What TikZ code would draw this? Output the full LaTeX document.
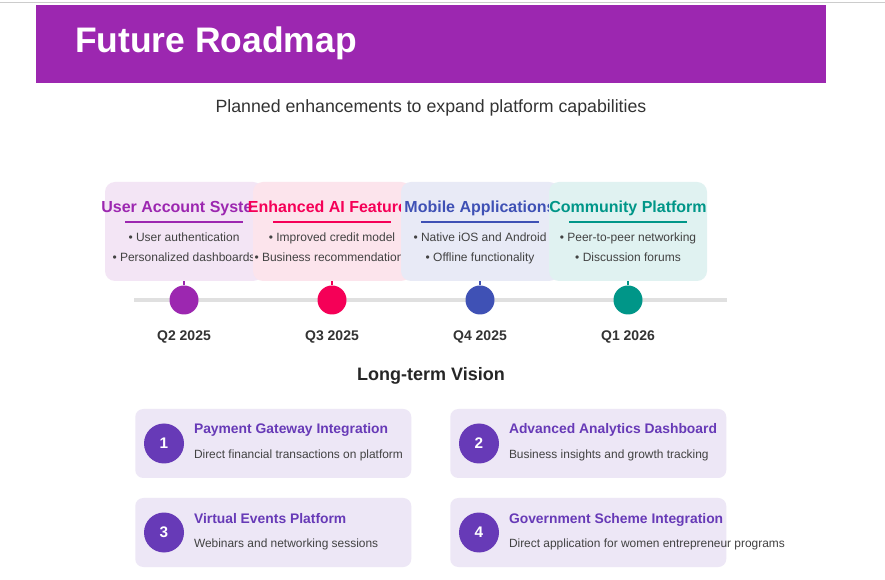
\documentclass[tikz,border=0pt]{standalone}
\usepackage{fontspec}
\setmainfont{Liberation Sans}
\definecolor{headbg}{HTML}{9C27B0}
\definecolor{cA}{HTML}{9C27B0}
\definecolor{cB}{HTML}{F50057}
\definecolor{cC}{HTML}{3F51B5}
\definecolor{cD}{HTML}{009688}
\definecolor{bgA}{HTML}{F3E5F5}
\definecolor{bgB}{HTML}{FCE4EC}
\definecolor{bgC}{HTML}{E8EAF6}
\definecolor{bgD}{HTML}{E0F2F1}
\definecolor{vbg}{HTML}{EDE7F6}
\definecolor{vink}{HTML}{673AB7}
\definecolor{bodytxt}{HTML}{424242}
\definecolor{darktxt}{HTML}{333333}
\definecolor{trackgray}{HTML}{E0E0E0}
\definecolor{rulegray}{HTML}{CCCCCC}
\begin{document}
\begin{tikzpicture}[x=0.75pt,y=-0.75pt,
  txt/.style={inner sep=0pt, outer sep=0pt},
  header/.style={fill=headbg, minimum width=592.5pt, minimum height=58.5pt, inner sep=0pt},
  tcard/.style={rounded corners=7.5pt, minimum width=118.5pt, minimum height=74.25pt, inner sep=0pt},
  ttitle/.style={txt, font=\fontsize{12pt}{14pt}\selectfont\bfseries},
  bullet/.style={txt, text=bodytxt, font=\fontsize{9pt}{11pt}\selectfont},
  dot/.style={circle, minimum size=21.75pt, inner sep=0pt},
  datelbl/.style={txt, text=darktxt, font=\fontsize{10.5pt}{12pt}\selectfont\bfseries},
  vcard/.style={fill=vbg, rounded corners=6pt, minimum width=207pt, minimum height=51.75pt, inner sep=0pt},
  vnum/.style={circle, fill=vink, text=white, minimum size=30pt, inner sep=0pt, font=\fontsize{11.5pt}{13pt}\selectfont\bfseries},
  vtitle/.style={txt, text=vink, font=\fontsize{10.4pt}{12pt}\selectfont\bfseries},
  vdesc/.style={txt, text=bodytxt, font=\fontsize{8.95pt}{11pt}\selectfont}
]
\useasboundingbox (0,0) rectangle (885,580);
\fill[white] (0,0) rectangle (885,580);

% thin rule along the top edge
\coordinate (ruleL) at (0,2.5);
\coordinate (ruleR) at (885,2.5);
\draw[rulegray, line width=0.9pt] (ruleL) -- (ruleR);

% header banner
\node[header] (header) at (431,44) {};
\node[txt, anchor=base west, text=white, font=\fontsize{26.6pt}{30pt}\selectfont\bfseries] (title) at (75,53) {Future Roadmap};
\node[txt, anchor=base, text=darktxt, font=\fontsize{13.3pt}{16pt}\selectfont] (subtitle) at (431,113) {Planned enhancements to expand platform capabilities};

% timeline track
\coordinate (trackL) at (134,300);
\coordinate (trackR) at (727,300);
\draw[trackgray, line width=3pt] (trackL) -- (trackR);

% milestone cards, each later one drawn over the previous
\foreach \i/\cx/\col/\bg/\ttl/\ba/\bb in {
  1/184/cA/bgA/User Account System/User authentication/Personalized dashboards,
  2/332/cB/bgB/Enhanced AI Features/Improved credit model/Business recommendations,
  3/480/cC/bgC/Mobile Applications/Native iOS and Android/Offline functionality,
  4/628/cD/bgD/Community Platform/Peer-to-peer networking/Discussion forums}{
  \node[tcard, fill=\bg] (card\i) at (\cx,231.5) {};
  \node[ttitle, text=\col, anchor=base] (ttl\i) at (\cx,213) {\ttl};
  \coordinate (ulL\i) at (\cx-59,222);
  \coordinate (ulR\i) at (\cx+59,222);
  \draw[\col, line width=1.5pt] (ulL\i) -- (ulR\i);
  \node[bullet, anchor=base] (ba\i) at (\cx,241.5) {• \ba};
  \node[bullet, anchor=base] (bb\i) at (\cx,261.5) {• \bb};
}

% milestone dots, stems and dates
\foreach \i/\cx/\col/\dt in {1/184/cA/Q2 2025, 2/332/cB/Q3 2025, 3/480/cC/Q4 2025, 4/628/cD/Q1 2026}{
  \node[dot, fill=\col] (dot\i) at (\cx,300) {};
  \draw[\col, line width=1.5pt] (card\i.south) -- (dot\i.north);
  \node[datelbl, anchor=base] (date\i) at (\cx,340.5) {\dt};
}

% long-term vision
\node[txt, anchor=base, text=black!85, font=\fontsize{13.5pt}{16pt}\selectfont\bfseries] (vision) at (431,380.5) {Long-term Vision};

\foreach \i/\lx/\cy/\ttl/\dsc in {
  1/135/443.5/Payment Gateway Integration/Direct financial transactions on platform,
  2/450/443.5/Advanced Analytics Dashboard/Business insights and growth tracking,
  3/135/532.5/Virtual Events Platform/Webinars and networking sessions,
  4/450/532.5/Government Scheme Integration/Direct application for women entrepreneur programs}{
  \node[vcard, anchor=west] (vc\i) at (\lx,\cy) {};
  \node[vnum] (vn\i) at (\lx+29,\cy) {\i};
  \node[vtitle, anchor=base west] (vt\i) at (\lx+59,\cy-9.5) {\ttl};
  \node[vdesc, anchor=base west] (vd\i) at (\lx+59,\cy+15) {\dsc};
}
\end{tikzpicture}
\end{document}
